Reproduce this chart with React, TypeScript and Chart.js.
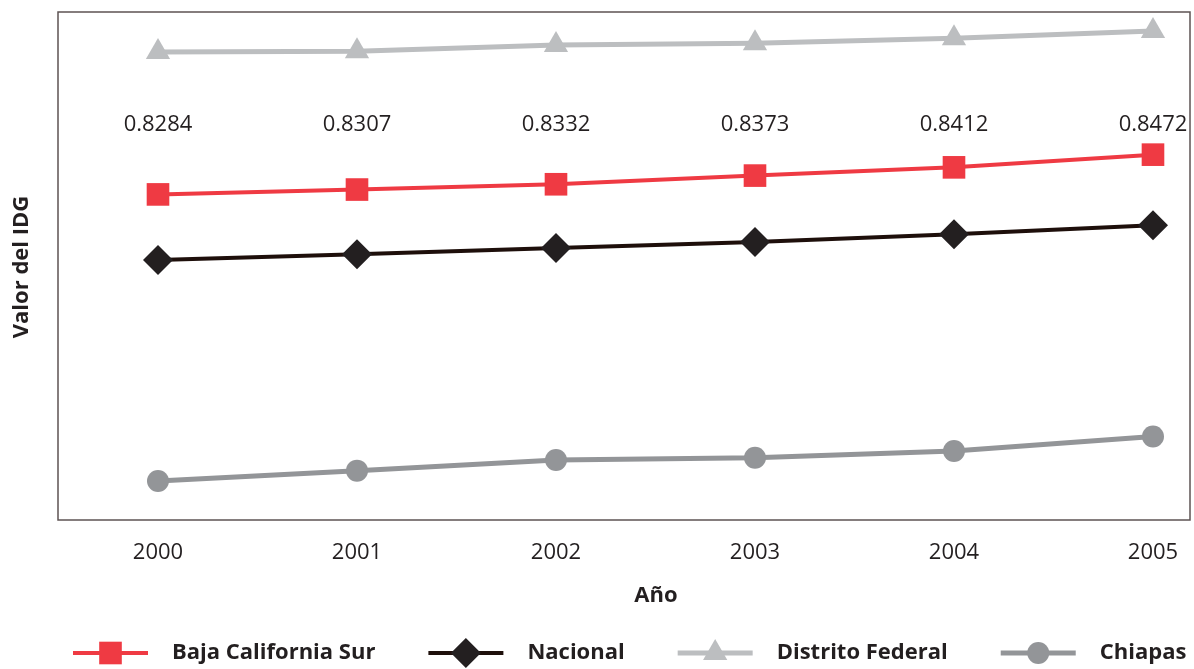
import React, { useEffect, useRef } from "react";
import { Chart, registerables } from "chart.js";

Chart.register(...registerables);

const years = [2000, 2001, 2002, 2003, 2004, 2005];
const bajaCaliforniaSur = [0.8284, 0.8307, 0.8332, 0.8373, 0.8412, 0.8472];
const nacional = [0.7974, 0.8001, 0.8031, 0.8059, 0.8096, 0.8138];
const distritoFederal = [0.8957, 0.8961, 0.899, 0.8999, 0.9022, 0.9057];
const chiapas = [0.6929, 0.6978, 0.7028, 0.7039, 0.7071, 0.7139];
const bcsLabels = ["0.8284", "0.8307", "0.8332", "0.8373", "0.8412", "0.8472"];

const FONT = "'Open Sans', sans-serif";
const TEXT = "#231f20";

const seriesDefs = [
  { label: "Baja California Sur", data: bajaCaliforniaSur, color: "#ef3a43", marker: "#ef3a43", style: "rect", radius: 16, width: 4 },
  { label: "Nacional", data: nacional, color: "#1e0f0b", marker: "#231f20", style: "rectRot", radius: 15, width: 4 },
  { label: "Distrito Federal", data: distritoFederal, color: "#bcbec0", marker: "#bcbec0", style: "triangle", radius: 14, width: 5 },
  { label: "Chiapas", data: chiapas, color: "#939598", marker: "#939598", style: "circle", radius: 11, width: 5 },
];

function drawMarker(ctx: CanvasRenderingContext2D, style: string, r: number, x: number, y: number, color: string) {
  ctx.save();
  ctx.fillStyle = color;
  ctx.beginPath();
  if (style === "rect") {
    const s = Math.SQRT1_2 * r;
    ctx.rect(x - s, y - s, 2 * s, 2 * s);
  } else if (style === "rectRot") {
    ctx.moveTo(x, y - r);
    ctx.lineTo(x + r, y);
    ctx.lineTo(x, y + r);
    ctx.lineTo(x - r, y);
    ctx.closePath();
  } else if (style === "triangle") {
    for (let k = 0; k < 3; k++) {
      const a = (k * 2 * Math.PI) / 3;
      const px = x + Math.sin(a) * r;
      const py = y - Math.cos(a) * r;
      if (k === 0) ctx.moveTo(px, py);
      else ctx.lineTo(px, py);
    }
    ctx.closePath();
  } else {
    ctx.arc(x, y, r, 0, Math.PI * 2);
  }
  ctx.fill();
  ctx.restore();
}

const overlay = {
  id: "overlay",
  beforeDatasetsDraw(chart: any) {
    const { ctx, chartArea } = chart;
    ctx.save();
    ctx.strokeStyle = "#5d5353";
    ctx.lineWidth = 1.5;
    ctx.strokeRect(chartArea.left, chartArea.top, chartArea.right - chartArea.left, chartArea.bottom - chartArea.top);
    ctx.restore();
  },
  afterDraw(chart: any) {
    const { ctx, chartArea } = chart;
    const xs = chart.scales.x;
    ctx.save();
    ctx.fillStyle = TEXT;
    ctx.font = `22px ${FONT}`;
    ctx.textAlign = "center";
    ctx.textBaseline = "middle";
    years.forEach((yr, i) => {
      ctx.fillText(bcsLabels[i], xs.getPixelForValue(yr), chartArea.top + 113);
    });
    ctx.font = `bold 22px ${FONT}`;
    ctx.fillText("Año", 656, 596);
    ctx.save();
    ctx.translate(22, 267);
    ctx.rotate(-Math.PI / 2);
    ctx.fillText("Valor del IDG", 0, 0);
    ctx.restore();
    let x = 73;
    const ly = 653;
    ctx.textAlign = "left";
    seriesDefs.forEach((s) => {
      ctx.strokeStyle = s.color;
      ctx.lineWidth = s.width;
      ctx.beginPath();
      ctx.moveTo(x, ly);
      ctx.lineTo(x + 75, ly);
      ctx.stroke();
      drawMarker(ctx, s.style, s.radius, x + 37.5, ly, s.marker);
      ctx.fillStyle = TEXT;
      ctx.fillText(s.label, x + 99, ly);
      x += 99 + ctx.measureText(s.label).width + 53;
    });
    ctx.restore();
  },
};

export default function App() {
  const ref = useRef<HTMLCanvasElement | null>(null);
  useEffect(() => {
    document.body.style.margin = "0";
    const canvas = ref.current!;
    const chart = new Chart(canvas, {
      type: "line",
      data: {
        datasets: seriesDefs.map((s) => ({
          label: s.label,
          data: years.map((yr, i) => ({ x: yr, y: s.data[i] })),
          borderColor: s.color,
          backgroundColor: s.marker,
          pointBackgroundColor: s.marker,
          pointBorderWidth: 0,
          pointBorderColor: s.marker,
          pointStyle: s.style as any,
          pointRadius: s.radius,
          borderWidth: s.width,
          tension: 0,
          clip: false as any,
        })),
      },
      options: {
        animation: false,
        responsive: false,
        layout: { autoPadding: false, padding: { left: 58, top: 12, right: 4, bottom: 0 } },
        plugins: { legend: { display: false }, tooltip: { enabled: false } },
        scales: {
          x: {
            type: "linear",
            min: 1999.4975,
            max: 2005.186,
            grid: { display: true, drawOnChartArea: false, drawTicks: true, tickLength: 16, color: "rgba(0,0,0,0)" },
            border: { display: false },
            afterBuildTicks: (scale: any) => {
              scale.ticks = years.map((v) => ({ value: v }));
            },
            afterFit: (scale: any) => {
              scale.height = 149;
            },
            ticks: {
              padding: 4,
              color: TEXT,
              font: { family: FONT, size: 22 },
              callback: (v: any) => String(v),
            },
          },
          y: {
            type: "linear",
            display: false,
            min: 0.67446,
            max: 0.91465,
          },
        },
      },
      plugins: [overlay],
    });
    return () => chart.destroy();
  }, []);
  return (
    <div style={{ width: 1194, height: 669 }}>
      <canvas ref={ref} width={1194} height={669} />
    </div>
  );
}
